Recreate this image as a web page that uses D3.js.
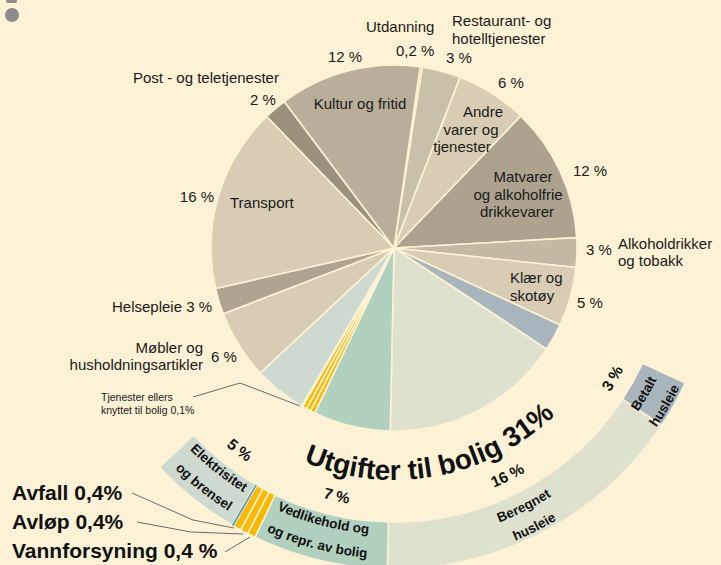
<!DOCTYPE html>
<html>
<head>
<meta charset="utf-8">
<script src="https://cdn.jsdelivr.net/npm/d3@7"></script>
<style>
  body { margin: 0; background: #fdf2d5; }
  svg { display: block; font-family: "Liberation Sans", Arial, sans-serif; }
</style>
</head>
<body>
<div id="chart"></div>
<script>
/*
pie of household spending, with the housing part repeated as an outer band
 */

// slices, clockwise from the top (share in %)
var categories = ["Utdanning", "Restaurant", "Andre", "Matvarer", "Alkohol", "Klaer",
    "Betalt", "Beregnet", "Vedlikehold", "Vann", "Avlop", "Avfall", "Tjenester",
    "Elektrisitet", "Mobler", "Helse", "Transport", "Post", "Kultur"];
var shares = [0.2, 3.4, 6.3, 11.9, 2.6, 5.2,
    2.4, 16.0, 6.8, 0.4, 0.4, 0.4, 0.1,
    4.6, 6.1, 2.3, 16.3, 2.0, 12.5];

// housing slices that also get the outer band
var housing = ["Betalt", "Beregnet", "Vedlikehold", "Vann", "Avlop", "Avfall", "Tjenester", "Elektrisitet"];

// labels inside the band (lines) and the percent above each band part
var bandLabels = {
    "Betalt": ["Betalt", "husleie"],
    "Beregnet": ["Beregnet", "husleie"],
    "Vedlikehold": ["Vedlikehold og", "og repr. av bolig"],
    "Elektrisitet": ["Elektrisitet", "og brensel"]
};
var bandPercents = {"Betalt": "3 %", "Beregnet": "16 %", "Vedlikehold": "7 %", "Elektrisitet": "5 %"};
var totalLabel = "Utgifter til bolig 31%";

// text around the pie
var pieTexts = [
    ["Utdanning", 366, 27, "start"], ["0,2 %", 396, 51, "start"],
    ["12 %", 328, 57, "start"],
    ["Restaurant- og", 452, 21, "start"], ["hotelltjenester", 452, 39, "start"], ["3 %", 446, 58, "start"],
    ["6 %", 498, 83, "start"],
    ["Andre", 483, 112, "middle"], ["varer og", 471, 130, "middle"], ["tjenester", 462, 147, "middle"],
    ["Matvarer", 523, 177, "middle"], ["og alkoholfrie", 518, 195, "middle"], ["drikkevarer", 517, 212, "middle"],
    ["12 %", 573, 171, "start"],
    ["3 %", 586, 250, "start"], ["Alkoholdrikker", 618, 244, "start"], ["og tobakk", 618, 261, "start"],
    ["Klær og", 510, 278, "start"], ["skotøy", 510, 296, "start"], ["5 %", 577, 303, "start"],
    ["Kultur og fritid", 360, 104, "middle"],
    ["Post - og teletjenester", 133, 78, "start"], ["2 %", 250, 100, "start"],
    ["Transport", 230, 203, "start"], ["16 %", 214, 197, "end"],
    ["Helsepleie 3 %", 112, 307, "start"],
    ["Møbler og", 203, 348, "end"], ["husholdningsartikler", 203, 365, "end"], ["6 %", 211, 357, "start"]
];
var smallTexts = [["Tjenester ellers", 101, 397], ["knyttet til bolig 0,1%", 101, 410]];
var bigTexts = [["Avfall 0,4%", 12, 493], ["Avløp 0,4%", 12, 522], ["Vannforsyning 0,4 %", 12, 551]];

// leader lines
var leaders = [
    [[193, 397], [240, 383], [300, 406]],
    [[132, 493], [193, 520], [234, 528]],
    [[137, 522], [191, 532], [243, 534]],
    [[225, 552], [250, 537]]
];

var colors = {
    "Utdanning": "#cbc2ab", "Restaurant": "#c9c0a9", "Andre": "#d8cdb4", "Matvarer": "#aca28d",
    "Alkohol": "#c4b9a3", "Klaer": "#d8ccb4", "Betalt": "#a9b5bd", "Beregnet": "#dfe1cf",
    "Vedlikehold": "#b2d0be", "Vann": "#fab900", "Avlop": "#fab900", "Avfall": "#fab900",
    "Tjenester": "#5f9cc4", "Elektrisitet": "#cedacf", "Mobler": "#d8cdb4", "Helse": "#aea48f",
    "Transport": "#d8cdb4", "Post": "#9b927e", "Kultur": "#b8ae99"
};

var width = 721, height = 565;
var bg = "#fdf2d5";
var cx = 394, cy = 248;
var radius = 183;
var bandInner = 274, bandOuter = 321;
var startAngle = 8.2 * Math.PI / 180;

// where band texts sit: clock angle (deg) and line-centre radii
var bandTextPos = {
    "Betalt": {angle: 120.2, lines: [289, 313], pct: 120.8},
    "Beregnet": {angle: 153.3, lines: [289, 312], pct: 153.5},
    "Vedlikehold": {angle: 194.6, lines: [282, 306], pct: 193},
    "Elektrisitet": {angle: 218.5, lines: [282, 306], pct: 217.4}
};

var svg = d3.select("#chart").append("svg")
    .attr("width", width)
    .attr("height", height);

svg.append("rect").attr("width", width).attr("height", height).attr("fill", bg);

var g = svg.append("g").attr("transform", "translate(" + cx + "," + cy + ")");

var data = categories.map(function (c, i) { return {key: c, value: shares[i]}; });

var pie = d3.pie()
    .sort(null)
    .value(function (d) { return d.value; })
    .startAngle(startAngle)
    .endAngle(startAngle + 2 * Math.PI);
var arcs = pie(data);

var pieArc = d3.arc().innerRadius(0).outerRadius(radius);
var bandArc = d3.arc().innerRadius(bandInner).outerRadius(bandOuter);

g.selectAll(".slice")
    .data(arcs)
    .enter().append("path")
    .attr("class", "slice")
    .attr("d", pieArc)
    .attr("fill", function (d) { return colors[d.data.key]; })
    .attr("stroke", bg)
    .attr("stroke-width", 1.6)
    .attr("stroke-linejoin", "round");

var bandArcs = arcs.filter(function (d) { return housing.indexOf(d.data.key) >= 0; });

g.selectAll(".band")
    .data(bandArcs)
    .enter().append("path")
    .attr("class", "band")
    .attr("d", bandArc)
    .attr("fill", function (d) { return colors[d.data.key]; })
    .attr("stroke", function (d) { return d.data.key === "Tjenester" ? "none" : bg; })
    .attr("stroke-width", 1.6);

// thin blue line on top
g.selectAll(".band").filter(function (d) { return d.data.key === "Tjenester"; }).raise();

// curved text helper: clock angle (deg, from top, clockwise), read left to right across the bottom
var pathId = 0;
function curvedText(text, thetaDeg, rBase, size, weight) {
    var half = 80;
    var a0 = (thetaDeg + half - 90) * Math.PI / 180;
    var a1 = (thetaDeg - half - 90) * Math.PI / 180;
    var p = d3.path();
    p.moveTo(rBase * Math.cos(a0), rBase * Math.sin(a0));
    p.arc(0, 0, rBase, a0, a1, true);
    var id = "tp" + (pathId++);
    g.append("path").attr("id", id).attr("d", p.toString()).attr("fill", "none");
    g.append("text")
        .attr("font-size", size)
        .attr("font-weight", weight)
        .attr("fill", "#111")
        .append("textPath")
        .attr("href", "#" + id)
        .attr("startOffset", "50%")
        .attr("text-anchor", "middle")
        .text(text);
}

var bandFont = 13.5, pctFont = 15.5;
bandArcs.forEach(function (d) {
    var k = d.data.key;
    if (!bandLabels[k]) return;
    var pos = bandTextPos[k];
    bandLabels[k].forEach(function (t, i) {
        curvedText(t, pos.angle, pos.lines[i] + 0.36 * bandFont, bandFont, "bold");
    });
    curvedText(bandPercents[k], pos.pct, 254 + 0.36 * pctFont, pctFont, "bold");
});

curvedText(totalLabel, 169.5, 232, 28, "bold");

// plain labels
svg.selectAll(".lbl")
    .data(pieTexts)
    .enter().append("text")
    .attr("class", "lbl")
    .attr("x", function (d) { return d[1]; })
    .attr("y", function (d) { return d[2]; })
    .attr("dy", "0.35em")
    .attr("text-anchor", function (d) { return d[3]; })
    .attr("font-size", 15)
    .attr("fill", "#1a1a1a")
    .text(function (d) { return d[0]; });

svg.selectAll(".small")
    .data(smallTexts)
    .enter().append("text")
    .attr("class", "small")
    .attr("x", function (d) { return d[1]; })
    .attr("y", function (d) { return d[2]; })
    .attr("dy", "0.35em")
    .attr("font-size", 10.5)
    .attr("fill", "#1a1a1a")
    .text(function (d) { return d[0]; });

svg.selectAll(".big")
    .data(bigTexts)
    .enter().append("text")
    .attr("class", "big")
    .attr("x", function (d) { return d[1]; })
    .attr("y", function (d) { return d[2]; })
    .attr("dy", "0.35em")
    .attr("font-size", 21)
    .attr("font-weight", "bold")
    .attr("fill", "#111")
    .text(function (d) { return d[0]; });

var line = d3.line();
svg.selectAll(".leader")
    .data(leaders)
    .enter().append("path")
    .attr("class", "leader")
    .attr("d", line)
    .attr("fill", "none")
    .attr("stroke", "#6b6b6b")
    .attr("stroke-width", 1);

// cut-off icon in the corner
svg.append("rect").attr("x", 6).attr("y", -4).attr("width", 11).attr("height", 7).attr("rx", 2).attr("fill", "#8c8c8c");
svg.append("circle").attr("cx", 12).attr("cy", 15).attr("r", 7).attr("fill", "#8c8c8c");
</script>
</body>
</html>
